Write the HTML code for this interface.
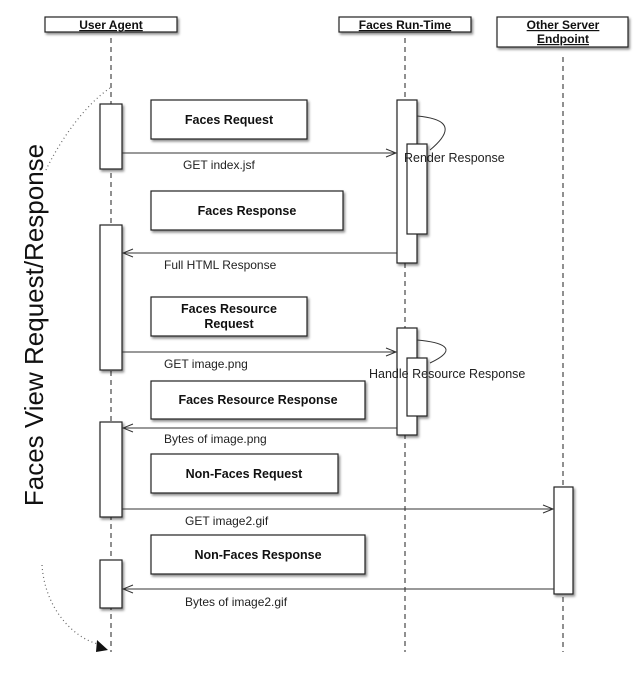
<!DOCTYPE html>
<html><head><meta charset="utf-8"><style>
body{margin:0;background:#fff;}
svg text{font-family:"Liberation Sans",Arial,sans-serif;}
</style></head><body>
<svg width="642" height="677" viewBox="0 0 642 677" xmlns="http://www.w3.org/2000/svg">
<defs>
<filter id="sh" x="-10%" y="-10%" width="130%" height="140%"><feDropShadow dx="1.5" dy="2" stdDeviation="1.2" flood-color="#000" flood-opacity="0.45"/></filter>
</defs>
<g stroke="#222" stroke-width="1" stroke-dasharray="5,4" fill="none">
<line x1="111" y1="38" x2="111" y2="652"/>
<line x1="405" y1="38" x2="405" y2="652"/>
<line x1="563" y1="57" x2="563" y2="652"/>
</g>
<g fill="#fff" stroke="#222" stroke-width="1.2" filter="url(#sh)">
<rect x="45" y="17" width="132" height="15"/>
<rect x="339" y="17" width="132" height="15"/>
<rect x="497" y="17" width="131" height="30"/>
<rect x="151" y="100" width="156" height="39"/>
<rect x="151" y="191" width="192" height="39"/>
<rect x="151" y="297" width="156" height="39"/>
<rect x="151" y="381" width="214" height="38"/>
<rect x="151" y="454" width="187" height="39"/>
<rect x="151" y="535" width="214" height="39"/>
<rect x="100" y="104" width="22" height="65"/>
<rect x="100" y="225" width="22" height="145"/>
<rect x="100" y="422" width="22" height="95"/>
<rect x="100" y="560" width="22" height="48"/>
<rect x="397" y="100" width="20" height="163"/>
<rect x="407" y="144" width="20" height="90"/>
<rect x="397" y="328" width="20" height="107"/>
<rect x="407" y="358" width="20" height="58"/>
<rect x="554" y="487" width="19" height="107"/>
</g>
<g font-weight="bold" font-size="12" text-anchor="middle" fill="#111" text-decoration="underline">
<text x="111" y="29">User Agent</text>
<text x="405" y="29">Faces Run-Time</text>
<text x="563" y="29">Other Server</text>
<text x="563" y="43">Endpoint</text>
</g>
<g font-weight="bold" font-size="12.5" text-anchor="middle" fill="#111">
<text x="229" y="124">Faces Request</text>
<text x="247" y="215">Faces Response</text>
<text x="229" y="313">Faces Resource</text>
<text x="229" y="328">Request</text>
<text x="258" y="404">Faces Resource Response</text>
<text x="244" y="478">Non-Faces Request</text>
<text x="258" y="559">Non-Faces Response</text>
</g>
<g stroke="#333" stroke-width="1" fill="none">
<line x1="122" y1="153" x2="396" y2="153"/><polyline points="386,149 396,153 386,157"/>
<line x1="397" y1="253" x2="123" y2="253"/><polyline points="133,249 123,253 133,257"/>
<line x1="122" y1="352" x2="396" y2="352"/><polyline points="386,348 396,352 386,356"/>
<line x1="397" y1="428" x2="123" y2="428"/><polyline points="133,424 123,428 133,432"/>
<line x1="122" y1="509" x2="553" y2="509"/><polyline points="543,505 553,509 543,513"/>
<line x1="554" y1="589" x2="123" y2="589"/><polyline points="133,585 123,589 133,593"/>
<path d="M417,116 C440,118 460,125 430,150"/>
<path d="M417,340 C440,342 462,348 430,363"/>
</g>
<g font-size="12" fill="#222">
<text x="183" y="169">GET index.jsf</text>
<text x="164" y="269">Full HTML Response</text>
<text x="164" y="368">GET image.png</text>
<text x="164" y="443">Bytes of image.png</text>
<text x="185" y="525">GET image2.gif</text>
<text x="185" y="606">Bytes of image2.gif</text>
<text x="404" y="162" font-size="12.5">Render Response</text>
<text x="369" y="378" font-size="12.5">Handle Resource Response</text>
</g>
<g stroke="#666" stroke-width="1.2" stroke-dasharray="1,3" fill="none">
<path d="M110,88 C85,105 60,140 45,172"/>
<path d="M42,565 C45,610 75,640 102,645"/>
</g>
<polygon points="97,640 108,650 96,652" fill="#111"/>
<text transform="translate(43,325) rotate(-90)" text-anchor="middle" font-size="26" fill="#111">Faces View Request/Response</text>
</svg>
</body></html>
